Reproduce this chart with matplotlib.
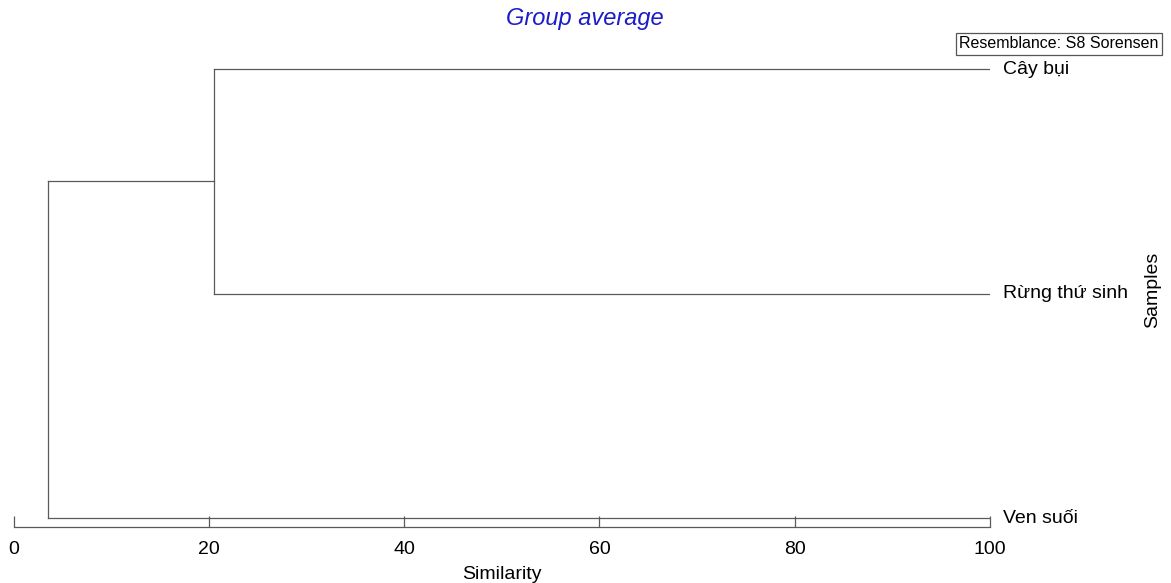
import matplotlib
matplotlib.use("Agg")
import matplotlib.pyplot as plt

plt.rcParams['font.family'] = ['Liberation Sans', 'DejaVu Sans']

# leaves, top to bottom
samples = ["Cây bụi", "Rừng thứ sinh", "Ven suối"]
leaf_pos = [3, 2, 1]
# merges: (left, right, similarity) -- indices >= 3 refer to earlier merges
merges = [(0, 1, 20.5), (3, 2, 3.5)]
ticks = [0, 20, 40, 60, 80, 100]

fig = plt.figure(figsize=(11.71, 5.83), dpi=100)
ax = fig.add_axes([13.7 / 1171, 56 / 583, (990 - 13.7) / 1171, 469 / 583])

line_c = "#5a5a5a"
node_y = list(leaf_pos)
node_x = [100] * len(samples)
for a, b, s in merges:
    ya, yb = node_y[a], node_y[b]
    ax.plot([node_x[a], s], [ya, ya], color=line_c, lw=0.9)
    ax.plot([node_x[b], s], [yb, yb], color=line_c, lw=0.9)
    ax.plot([s, s], [ya, yb], color=line_c, lw=0.9)
    node_y.append((ya + yb) / 2)
    node_x.append(s)

for name, y in zip(samples, leaf_pos):
    ax.text(101.3, y, name, fontsize=14, va="center", ha="left")

ax.set_xlim(0, 100)
ax.set_ylim(0.96, 3.05)
for sp in ["top", "left", "right"]:
    ax.spines[sp].set_visible(False)
ax.spines["bottom"].set_color(line_c)
ax.spines["bottom"].set_linewidth(0.9)
ax.set_yticks([])
ax.set_xticks(ticks)
ax.tick_params(axis="x", direction="in", length=8, width=0.9, color=line_c,
               labelsize=14, pad=10)
ax.set_xlabel("Similarity", fontsize=14, labelpad=5.5)

fig.text(585 / 1171, 1 - 18 / 583, "Group average", color="#1c1cc8",
         fontsize=17, style="italic", ha="center", va="center")
fig.text(1153 / 1171, 1 - 290 / 583, "Samples", rotation=90, fontsize=14,
         ha="center", va="center")
fig.text(1059 / 1171, 1 - 44 / 583, "Resemblance: S8 Sorensen", fontsize=11.5,
         ha="center", va="center",
         bbox=dict(boxstyle="square,pad=0.2", fc="white", ec="#555555", lw=0.9))

fig.savefig("out.png", dpi=100)
